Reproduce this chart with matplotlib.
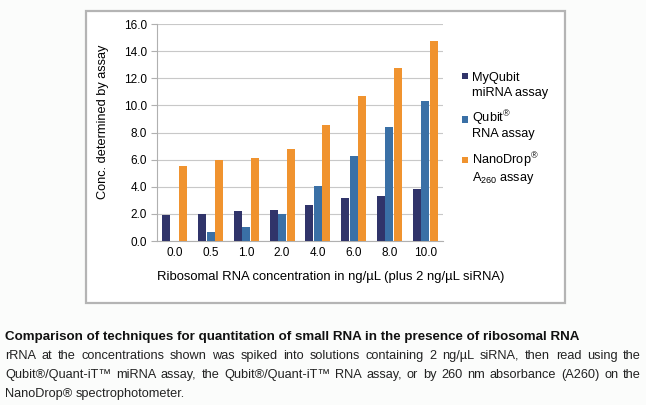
import numpy as np
import matplotlib
matplotlib.use('Agg')
import matplotlib.pyplot as plt
from matplotlib.patches import Rectangle

plt.rcParams['font.family'] = ['Liberation Sans', 'DejaVu Sans']
plt.rcParams['mathtext.fontset'] = 'custom'
plt.rcParams['mathtext.rm'] = 'Liberation Sans'
plt.rcParams['mathtext.it'] = 'Liberation Sans'

# data
categories = ['0.0', '0.5', '1.0', '2.0', '4.0', '6.0', '8.0', '10.0']
myqubit_mirna = [1.95, 2.02, 2.2, 2.3, 2.64, 3.16, 3.35, 3.86]
qubit_rna = [0.0, 0.64, 1.05, 2.02, 4.04, 6.24, 8.41, 10.33]
nanodrop_a260 = [5.55, 5.97, 6.14, 6.76, 8.58, 10.68, 12.77, 14.77]

series = [myqubit_mirna, qubit_rna, nanodrop_a260]
colors = ['#30346a', '#3a70a6', '#f0932f']
labels = [('MyQubit', 'miRNA assay'),
          ('Qubit$^{\u00ae}$', 'RNA assay'),
          ('NanoDrop$^{\u00ae}$', 'A$_{260}$ assay')]

W, H = 646, 405
fig = plt.figure(figsize=(W / 100, H / 100), dpi=100)
fig.patch.set_facecolor('#fbfcfb')

# white panel with grey frame behind the chart
fig.patches.append(Rectangle((86 / W, 1 - 303 / H), (565 - 86) / W, (303 - 11) / H,
                             transform=fig.transFigure, facecolor='white',
                             edgecolor='#b4b4b4', lw=1.6, zorder=-5))

ax = fig.add_axes([157 / W, 1 - 241 / H, (443 - 157) / W, (241 - 24) / H], zorder=2)
ax.set_facecolor('white')
x = np.arange(len(categories))
bw = 0.225
for i, (vals, c) in enumerate(zip(series, colors)):
    ax.bar(x + (i - 1) * 0.235, vals, bw, color=c, zorder=3)

ax.set_xlim(-0.5, len(categories) - 0.5)
ax.set_ylim(0, 16)
ax.set_yticks(np.arange(0, 17, 2))
ax.set_yticklabels(['%.1f' % v for v in np.arange(0, 17, 2)])
ax.set_xticks(x)
ax.set_xticklabels(categories)
ax.yaxis.grid(True, color='#c8c8c8', lw=0.8, zorder=0)
for s in ['top', 'right']:
    ax.spines[s].set_visible(False)
ax.spines['left'].set_color('#b0b0b0')
ax.spines['bottom'].set_color('#b0b0b0')
ax.tick_params(axis='y', length=4, color='#b0b0b0', labelsize=8.5, pad=3)
ax.tick_params(axis='x', length=0, labelsize=8.5, pad=4)

# axis titles
fig.text(103 / W, 1 - 122 / H, 'Conc. determined by assay', fontsize=9.2,
         rotation=90, ha='center', va='center')
fig.text(331 / W, 1 - 277 / H, 'Ribosomal RNA concentration in ng/\u00b5L (plus 2 ng/\u00b5L siRNA)',
         fontsize=9.4, ha='center', va='center')

# legend drawn by hand, square next to first line
sq_y = [76, 119.5, 160]
line_base = [(81, 96), (123, 137), (165, 181)]
for c, lab, yy, (b1, b2) in zip(colors, labels, sq_y, line_base):
    fig.patches.append(Rectangle((462 / W, 1 - (yy + 3) / H), 6 / W, 6 / H,
                                 transform=fig.transFigure, facecolor=c, edgecolor='none'))
    fig.text(472 / W, 1 - b1 / H, lab[0], fontsize=9.2, va='baseline', ha='left')
    fig.text(472 / W, 1 - b2 / H, lab[1], fontsize=9.2, va='baseline', ha='left')

# caption
fig.text(5 / W, 1 - 337 / H, 'Comparison of techniques for quantitation of small RNA in the presence of ribosomal RNA',
         fontsize=9.6, fontweight='bold', va='center', ha='left', color='#111111')

body = ['rRNA at the concentrations shown was spiked into solutions containing 2 ng/\u00b5L siRNA, then read using the',
        'Qubit\u00ae/Quant-iT\u2122 miRNA assay, the Qubit\u00ae/Quant-iT\u2122 RNA assay, or by 260 nm absorbance (A260) on the',
        'NanoDrop\u00ae spectrophotometer.']
body_y = [356, 375, 394]

renderer = fig.canvas.get_renderer()
x0, x1 = 5, 641
for k, (line, yy) in enumerate(zip(body, body_y)):
    words = line.split(' ')
    texts = [fig.text(0, 1 - yy / H, w, fontsize=9.2, va='center', ha='left', color='#222222')
             for w in words]
    widths = [t.get_window_extent(renderer).width for t in texts]
    if k < len(body) - 1:
        gap = (x1 - x0 - sum(widths)) / (len(words) - 1)
    else:
        gap = 3.6
    pos = x0
    for t, wd in zip(texts, widths):
        t.set_x(pos / W)
        pos += wd + gap

fig.savefig('out.png', dpi=100, facecolor=fig.get_facecolor())
